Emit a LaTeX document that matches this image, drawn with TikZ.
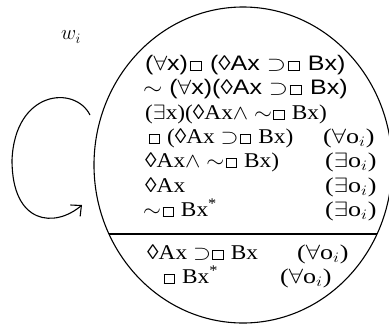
\documentclass[tikz,border=0pt]{standalone}
\usepackage{fontspec}
\usepackage{amssymb}
\usepackage{graphicx}
\setmainfont{Liberation Serif}
\setsansfont{Liberation Sans}
\usetikzlibrary{shapes.geometric,arrows.meta}
\newcommand\sqb{\hspace{0.06em}{\setlength\fboxsep{0pt}\setlength\fboxrule{0.65pt}\fbox{\rule{0pt}{0.4em}\hspace{0.42em}}}\hspace{0.06em}}
\newcommand\loz{◊}
\newcommand\tld{$\sim$}
\newcommand\st[1]{\scalebox{1.11}[1]{#1}}
\newcommand\sst[1]{\scalebox{1.19}[1]{#1}}
\newcommand\rst[1]{\scalebox{1.24}[1]{#1}}
\begin{document}
\begin{tikzpicture}[x=1pt,y=-1pt,
  txt/.style={anchor=base west,inner sep=0pt,font=\fontsize{21}{21}\selectfont},
  stxt/.style={txt,font=\fontsize{21}{21}\selectfont\sffamily},
  lbl/.style={inner sep=0pt,font=\fontsize{22}{22}\selectfont},
  edge/.style={line width=1.1pt}]
\useasboundingbox (0,0) rectangle (389,325);
\node[draw,edge,ellipse,minimum width=298pt,minimum height=316pt,inner sep=0pt] (world) at (243,165) {};
\coordinate (ruleL) at (109,234);
\coordinate (ruleR) at (377,234);
\draw[edge] (ruleL) -- (ruleR);
\node[lbl] (wlabel) at (71,37) {$w_i$};
\coordinate (loopS) at (90,115);
\coordinate (loopL) at (12,160);
\coordinate (loopE) at (82,205);
\draw[edge,-{Straight Barb[length=8pt,width=15pt]}] (loopS) .. controls (75,85) and (15,90) .. (loopL) .. controls (12,225) and (55,228) .. (loopE);
\node[stxt] (l1) at (145,70) {\sst{($\forall$x)\sqb\ (\loz Ax $\supset$\sqb\ Bx)}};
\node[stxt] (l2) at (143,94) {\sst{\tld\ ($\forall$x)(\loz Ax $\supset$\sqb\ Bx)}};
\node[txt] (l3) at (145,119) {\st{($\exists$x)(\loz Ax$\wedge$ \tld\sqb\ Bx)}};
\node[txt] (l4) at (147,143) {\st{\sqb\ (\loz Ax $\supset$\sqb\ Bx)}};
\node[txt] (l5) at (145,167) {\st{\loz Ax$\wedge$ \tld\sqb\ Bx)}};
\node[txt] (l6) at (145,192) {\st{\loz Ax}};
\node[txt] (l7) at (143,216) {\st{\tld\sqb\ Bx\textsuperscript{*}}};
\node[txt] (r4) at (323,143) {\rst{($\forall$o$_i$)}};
\node[txt] (r5) at (325,167) {\rst{($\exists$o$_i$)}};
\node[txt] (r6) at (325,192) {\rst{($\exists$o$_i$)}};
\node[txt] (r7) at (325,216) {\rst{($\exists$o$_i$)}};
\node[txt] (l8) at (147,259) {\st{\loz Ax $\supset$\sqb\ Bx}};
\node[txt] (r8) at (297,259) {\rst{($\forall$o$_i$)}};
\node[txt] (l9) at (162,283) {\st{\sqb\ Bx\textsuperscript{*}}};
\node[txt] (r9) at (280,283) {\rst{($\forall$o$_i$)}};
\end{tikzpicture}
\end{document}
